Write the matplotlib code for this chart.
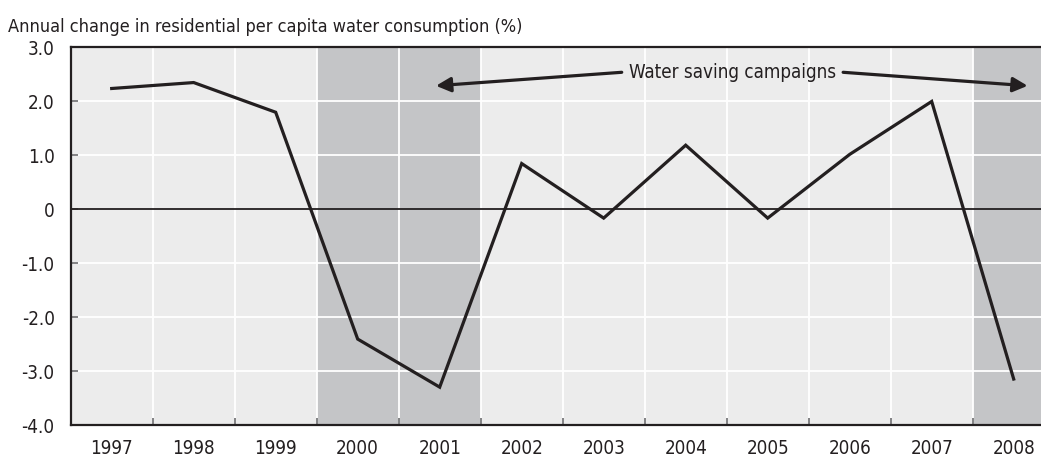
import matplotlib
import matplotlib.pyplot as plt
from matplotlib.ticker import FixedLocator

matplotlib.use("Agg")

plt.rcParams["font.family"] = ["DejaVu Sans"]
plt.rcParams["font.stretch"] = "condensed"

years = ["1997", "1998", "1999", "2000", "2001", "2002",
         "2003", "2004", "2005", "2006", "2007", "2008"]
change = [2.24, 2.35, 1.80, -2.40, -3.29, 0.85,
          -0.16, 1.19, -0.16, 1.02, 2.00, -3.14]
campaign_years = ["2000", "2001", "2008"]

y_ticks = [3.0, 2.0, 1.0, 0, -1.0, -2.0, -3.0, -4.0]
y_labels = ["3.0", "2.0", "1.0", "0", "-1.0", "-2.0", "-3.0", "-4.0"]

title = "Annual change in residential per capita water consumption (%)"
note = "Water saving campaigns"

INK = "#231f20"
BG = "#ececec"
SHADE = "#c4c5c7"

fig = plt.figure(figsize=(10.41, 4.58), dpi=100)
ax = fig.add_axes([0.0679, 0.071, 0.9321, 0.8254])
ax.set_facecolor(BG)

x = list(range(len(years)))

for yr in campaign_years:
    i = years.index(yr)
    ax.axvspan(i - 0.5, i + 0.5, color=SHADE, lw=0, zorder=0.5)

# white grid at category boundaries and y ticks
for b in range(len(years) - 1):
    ax.axvline(b + 0.5, color="white", lw=1.3, zorder=1)
for yt in y_ticks:
    if yt != 0:
        ax.axhline(yt, color="white", lw=1.3, zorder=1)
ax.axhline(0, color=INK, lw=1.3, zorder=2)

ax.plot(x, change, color=INK, lw=2.3, solid_joinstyle="miter", zorder=3)

ax.set_xlim(-0.5, 11.333)
ax.set_ylim(-4.0, 3.0)

ax.set_xticks(x)
ax.set_xticklabels(years)
ax.xaxis.set_minor_locator(FixedLocator([b + 0.5 for b in range(len(years) - 1)]))
ax.tick_params(axis="x", which="major", length=0, pad=10, labelsize=13.5, labelcolor=INK)
ax.tick_params(axis="x", which="minor", direction="in", length=5, width=1.2, color="#6d6e70")

ax.set_yticks(y_ticks)
ax.set_yticklabels(y_labels)
ax.tick_params(axis="y", direction="in", length=5, width=1.2, color="#6d6e70",
               pad=11.5, labelsize=13.5, labelcolor=INK)

for side in ["left", "bottom", "top"]:
    ax.spines[side].set_color(INK)
    ax.spines[side].set_linewidth(1.6)
ax.spines["right"].set_visible(False)
ax.spines["left"].set_zorder(4)

arrow = dict(arrowstyle="-|>", color=INK, lw=2.3, mutation_scale=22,
             shrinkA=0, shrinkB=0)
ax.annotate("", xy=(3.955, 2.29), xytext=(6.22, 2.54), arrowprops=arrow, zorder=5)
ax.annotate("", xy=(11.17, 2.29), xytext=(8.92, 2.54), arrowprops=arrow, zorder=5)
ax.text(7.57, 2.54, note, ha="center", va="center", fontsize=13.5, color=INK, zorder=5)

fig.text(8 / 1041, 1 - 27 / 458, title, ha="left", va="center", fontsize=13, color=INK)

fig.savefig("out.png", dpi=100)
